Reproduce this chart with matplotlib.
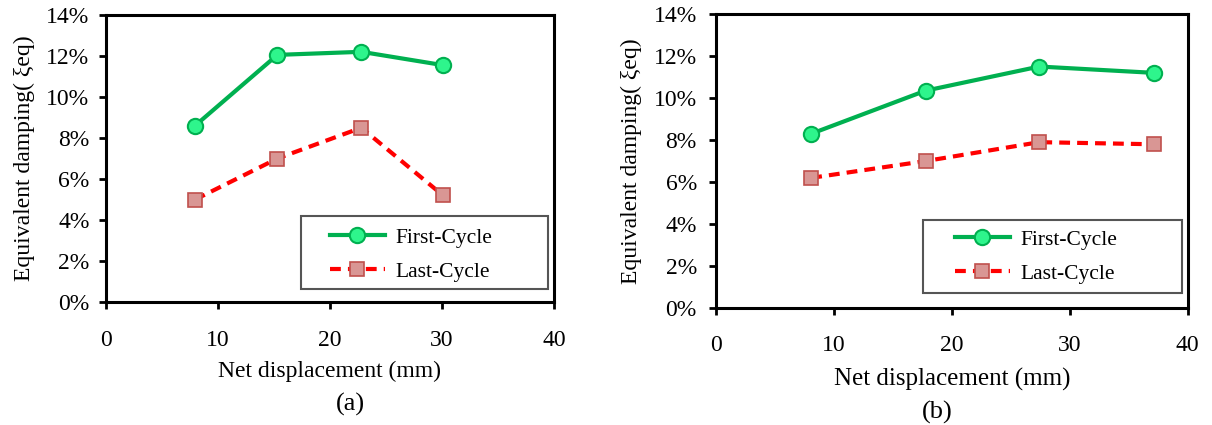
import matplotlib
matplotlib.use("Agg")
import matplotlib.pyplot as plt
from matplotlib.patches import Rectangle
from matplotlib.ticker import FuncFormatter

plt.rcParams["font.family"] = ["Liberation Serif", "DejaVu Serif"]

# panel (a)
disp_a = [7.95, 15.3, 22.8, 30.1]
first_a = [8.6, 12.05, 12.2, 11.55]
last_a = [5.0, 7.0, 8.5, 5.2]

# panel (b)
disp_b = [8.05, 17.75, 27.4, 37.1]
first_b = [8.3, 10.35, 11.5, 11.2]
last_b = [6.2, 7.0, 7.9, 7.8]

x_ticks = [0, 10, 20, 30, 40]
y_ticks = [0, 2, 4, 6, 8, 10, 12, 14]
series_names = ["First-Cycle", "Last-Cycle"]
panel_tags = ["(a)", "(b)"]

green_line = "#00B050"
green_fill = "#2EF58C"
red_line = "#FF0000"
red_fill = "#D99694"
red_edge = "#C0504D"


def draw_panel(ax, x, first, last, box, handle_at, lab_size, xpad, xlabpad, ypad):
    ax.plot(x, first, color=green_line, lw=3, marker="o", ms=11,
            mfc=green_fill, mec=green_line, mew=1.5, label=series_names[0])
    ax.plot(x, last, color=red_line, lw=3, ls=(0, (2.6, 1.7)), marker="s", ms=10,
            mfc=red_fill, mec=red_edge, mew=1.2, label=series_names[1])
    ax.set_xlim(0, 40)
    ax.set_ylim(0, 14)
    ax.set_xticks(x_ticks)
    ax.set_yticks(y_ticks)
    ax.yaxis.set_major_formatter(FuncFormatter(lambda v, p: f"{v:.0f}%"))
    for s in ax.spines.values():
        s.set_linewidth(2.2)
        s.set_color("black")
    ax.tick_params(axis="both", direction="out", length=5, width=2, labelsize=17,
                   colors="black")
    ax.tick_params(axis="x", pad=xpad)
    ax.tick_params(axis="y", pad=ypad)
    ax.set_xlabel("Net displacement (mm)", fontsize=lab_size, labelpad=xlabpad)
    ax.set_ylabel("Equivalent damping( ξeq)", fontsize=17, labelpad=8)

    # legend box drawn by hand so the entries can sit off-centre inside it
    x0, y0, x1, y1 = box
    ax.add_patch(Rectangle((x0, y0), x1 - x0, y1 - y0, transform=ax.transAxes,
                           facecolor="white", edgecolor="#555555", lw=1.5, zorder=4))
    leg = ax.legend(loc="center left", bbox_to_anchor=handle_at, fontsize=15.5,
                    frameon=False, borderpad=0, borderaxespad=0,
                    handlelength=2.55, handletextpad=0.5, labelspacing=0.65)
    leg.set_zorder(5)


fig = plt.figure(figsize=(12.12, 4.25), dpi=100)
ax_a = fig.add_axes([0.0875, 0.289, 0.3695, 0.676])
ax_b = fig.add_axes([0.591, 0.275, 0.389, 0.692])

draw_panel(ax_a, disp_a, first_a, last_a, (0.435, 0.045, 0.987, 0.30),
           (0.5, 0.165), 17, 15, 7, 7)
draw_panel(ax_b, disp_b, first_b, last_b, (0.438, 0.051, 0.987, 0.30),
           (0.506, 0.174), 18, 14, 9, 9)

fig.text(350 / 1212, 1 - 404 / 425, panel_tags[0], ha="center", va="center", fontsize=19)
fig.text(937 / 1212, 1 - 412 / 425, panel_tags[1], ha="center", va="center", fontsize=19)

fig.savefig("out.png", dpi=100)
